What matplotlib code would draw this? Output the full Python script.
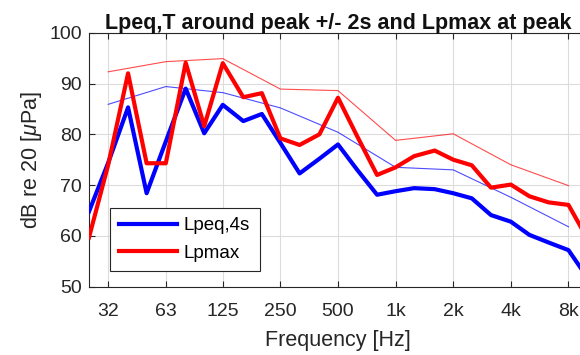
import matplotlib
matplotlib.use("Agg")
import matplotlib.pyplot as plt
from matplotlib.ticker import FixedLocator, FixedFormatter, NullLocator

# third-octave band centres [Hz]
freq_third = [25, 31.5, 40, 50, 63, 80, 100, 125, 160, 200, 250, 315, 400,
              500, 630, 800, 1000, 1250, 1600, 2000, 2500, 3150, 4000, 5000,
              6300, 8000, 10000]
lpeq_third = [64.8, 74.4, 85.3, 68.4, 78.6, 89.0, 80.2, 85.8, 82.6, 84.0,
              78.3, 72.3, 75.2, 78.0, 73.0, 68.1, 68.8, 69.4, 69.2, 68.4,
              67.4, 64.1, 62.8, 60.2, 58.7, 57.2, 51.9]
lpmax_third = [59.7, 74.0, 92.0, 74.3, 74.3, 94.1, 81.6, 94.0, 87.3, 88.1,
               79.2, 77.9, 80.0, 87.2, 79.6, 72.0, 73.5, 75.7, 76.8, 75.0,
               73.9, 69.5, 70.1, 67.8, 66.6, 66.1, 59.6]

# octave band centres [Hz]
freq_oct = [31.5, 63, 125, 250, 500, 1000, 2000, 4000, 8000]
lpeq_oct = [85.9, 89.4, 88.2, 85.2, 80.4, 73.5, 73.0, 67.6, 61.8]
lpmax_oct = [92.3, 94.3, 94.9, 88.9, 88.6, 78.8, 80.1, 74.0, 69.9]

tick_freqs = [31.5, 63, 125, 250, 500, 1000, 2000, 4000, 8000]
tick_labels = ["32", "63", "125", "250", "500", "1k", "2k", "4k", "8k"]

plt.rcParams["font.family"] = ["Liberation Sans", "DejaVu Sans"]
plt.rcParams["mathtext.fontset"] = "custom"
plt.rcParams["mathtext.it"] = "Liberation Sans:italic"

fig = plt.figure(figsize=(5.8, 3.55), dpi=100)
ax = fig.add_axes([89 / 580, 68.3 / 355, 498 / 580, 254 / 355])

ax.plot(freq_third, lpeq_third, color=(0, 0, 1), lw=3.0, label="Lpeq,4s",
        zorder=4)
ax.plot(freq_third, lpmax_third, color=(1, 0, 0), lw=3.0, label="Lpmax",
        zorder=5)
ax.plot(freq_oct, lpeq_oct, color=(0, 0, 1), lw=0.8, alpha=0.7, zorder=3)
ax.plot(freq_oct, lpmax_oct, color=(1, 0, 0), lw=0.8, alpha=0.7, zorder=3)

ax.set_xscale("log")
ax.set_xlim(25, 10000)
ax.set_ylim(50, 100)
ax.xaxis.set_major_locator(FixedLocator(tick_freqs))
ax.xaxis.set_major_formatter(FixedFormatter(tick_labels))
ax.xaxis.set_minor_locator(NullLocator())
ax.set_yticks([50, 60, 70, 80, 90, 100])

ax.grid(True, color="#dcdcdc", lw=0.8)
ax.set_axisbelow(True)
ax.tick_params(direction="in", length=4, width=0.8, top=True, right=True,
               labelsize=14, colors="#262626")
ax.tick_params(axis="x", pad=12)
ax.tick_params(axis="y", pad=5)
for s in ax.spines.values():
    s.set_color("#262626")
    s.set_linewidth(0.8)

ax.set_xlabel("Frequency [Hz]", fontsize=15.5, color="#262626", labelpad=7)
ax.set_ylabel(r"dB re 20 [$\mu$Pa]", fontsize=15.5, color="#262626",
              labelpad=4)
ax.set_title("Lpeq,T around peak +/- 2s and Lpmax at peak", fontsize=15.5,
             fontweight="bold", color="#111111", pad=3)

leg = ax.legend(loc="upper left", bbox_to_anchor=(0.042, 0.31), fontsize=13.5,
                fancybox=False, edgecolor="#262626", framealpha=1,
                handlelength=3.1, handletextpad=0.35, borderpad=0.5,
                labelspacing=0.55, borderaxespad=0)
leg.get_frame().set_linewidth(0.8)

fig.savefig("out.png", dpi=100)
